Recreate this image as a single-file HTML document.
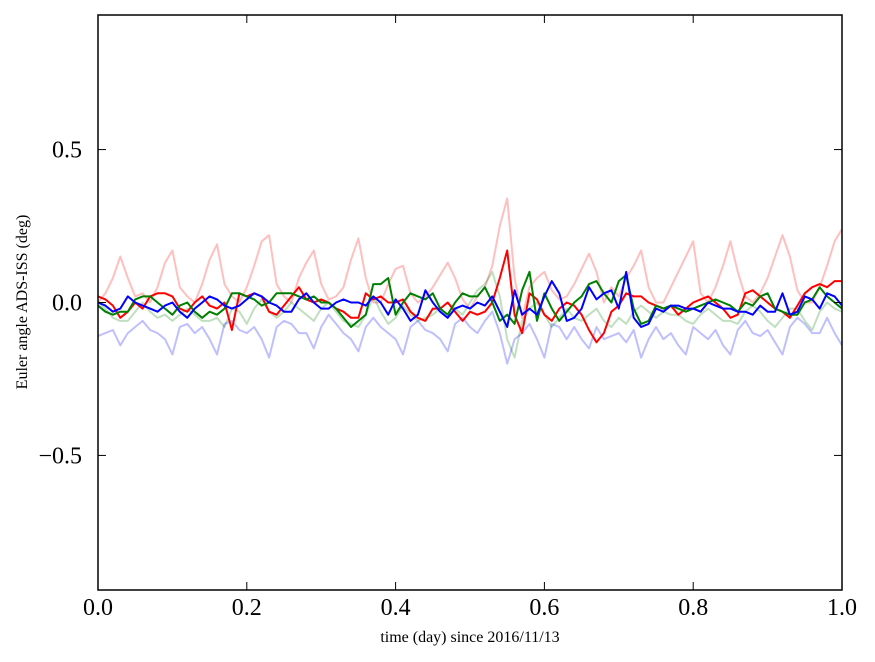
<!DOCTYPE html>
<html><head><meta charset="utf-8"><style>
body{margin:0;background:#fff;}
svg{display:block;font-family:"Liberation Serif",serif;}
</style></head><body>
<svg id="chart" width="875" height="662" viewBox="0 0 875 662">
<rect x="0" y="0" width="875" height="662" fill="#fff"/>
<g id="series"></g>
<rect x="98" y="15" width="744" height="575" fill="none" stroke="#000" stroke-width="1.5"/>
<g id="axes"></g>
<text x="470" y="642" font-size="16" text-anchor="middle">time (day) since 2016/11/13</text>
<text transform="translate(27,302) rotate(-90)" font-size="16" text-anchor="middle">Euler angle ADS-ISS (deg)</text>
</svg>
<script>
const xTicks=[0,0.2,0.4,0.6,0.8,1.0];
const xTickLabels=["0.0","0.2","0.4","0.6","0.8","1.0"];
const yTicks=[-0.5,0,0.5];
const yTickLabels=["\u22120.5","0.0","0.5"];
const lightRed=[0.0,0.03,0.08,0.15,0.08,0.02,0.03,0.0,0.05,0.13,0.17,0.05,0.02,0.0,0.06,0.14,0.19,0.06,0.02,0.0,0.05,0.12,0.2,0.22,0.06,0.02,0.0,0.08,0.13,0.17,0.06,0.01,0.02,0.05,0.14,0.21,0.08,0.0,0.0,0.06,0.11,0.12,0.03,0.0,0.02,0.05,0.09,0.13,0.08,0.01,-0.02,0.02,0.05,0.12,0.25,0.34,0.08,-0.05,0.05,0.08,0.1,0.04,0.01,0.02,0.06,0.11,0.16,0.1,0.0,0.05,0.02,0.08,0.12,0.17,0.05,0.0,0.0,0.05,0.1,0.15,0.2,0.03,0.0,0.05,0.12,0.2,0.1,0.02,0.0,0.03,0.08,0.15,0.22,0.15,0.04,0.0,0.0,0.05,0.12,0.2,0.24];
const lightGreen=[0.0,-0.02,-0.05,-0.06,-0.06,-0.03,0.0,-0.03,-0.05,-0.04,-0.06,-0.04,-0.02,-0.04,-0.06,-0.06,-0.05,-0.08,-0.02,-0.03,-0.07,-0.02,0.01,-0.03,-0.05,-0.03,0.0,-0.02,-0.04,-0.06,-0.02,0.0,-0.03,-0.06,-0.07,-0.08,-0.04,0.02,-0.03,-0.07,-0.05,-0.01,-0.04,-0.06,-0.05,-0.04,-0.02,0.0,-0.02,-0.04,0.0,0.04,0.06,0.1,0.02,-0.12,-0.18,-0.06,-0.02,0.0,-0.04,-0.08,-0.05,-0.02,-0.05,-0.06,-0.04,-0.02,-0.06,-0.08,-0.05,-0.07,-0.03,-0.01,-0.03,-0.05,-0.03,-0.04,-0.04,-0.06,-0.07,-0.04,-0.02,-0.04,-0.06,-0.06,-0.07,-0.03,-0.01,-0.03,-0.06,-0.08,-0.05,-0.02,-0.02,-0.06,-0.09,-0.03,0.0,-0.02,-0.03];
const lightBlue=[-0.11,-0.1,-0.09,-0.14,-0.1,-0.08,-0.06,-0.09,-0.1,-0.12,-0.17,-0.08,-0.07,-0.1,-0.08,-0.12,-0.17,-0.07,-0.06,-0.09,-0.1,-0.08,-0.12,-0.18,-0.08,-0.06,-0.07,-0.1,-0.1,-0.15,-0.08,-0.04,-0.07,-0.1,-0.12,-0.16,-0.08,-0.05,-0.08,-0.1,-0.12,-0.17,-0.08,-0.06,-0.09,-0.1,-0.12,-0.16,-0.07,-0.05,-0.08,-0.1,-0.06,-0.03,-0.1,-0.2,-0.12,-0.1,-0.07,-0.12,-0.18,-0.07,-0.08,-0.12,-0.08,-0.12,-0.15,-0.08,-0.12,-0.11,-0.1,-0.13,-0.09,-0.18,-0.12,-0.08,-0.12,-0.1,-0.14,-0.17,-0.08,-0.1,-0.12,-0.09,-0.14,-0.17,-0.09,-0.06,-0.1,-0.11,-0.09,-0.13,-0.17,-0.08,-0.05,-0.07,-0.1,-0.1,-0.05,-0.1,-0.14];
const red=[0.02,0.01,-0.01,-0.05,-0.03,0.0,-0.02,0.02,0.03,0.03,0.02,-0.02,-0.03,0.0,0.02,-0.01,-0.02,0.0,-0.09,0.03,0.02,0.03,0.02,-0.03,-0.04,-0.01,0.02,0.05,0.01,0.0,0.01,0.0,-0.02,-0.03,-0.05,-0.05,0.03,0.01,0.02,0.0,0.0,0.01,-0.03,-0.05,-0.06,-0.02,-0.02,0.0,-0.03,-0.06,-0.03,-0.04,-0.03,0.0,0.08,0.17,-0.04,-0.1,0.03,0.01,-0.04,-0.06,-0.02,0.0,-0.01,-0.04,-0.09,-0.13,-0.1,-0.03,-0.01,0.03,0.02,0.02,0.0,-0.01,-0.02,-0.01,-0.04,-0.02,0.0,0.01,0.02,0.0,-0.02,-0.05,-0.04,0.03,0.04,0.02,0.0,-0.02,-0.03,-0.05,-0.01,0.03,0.05,0.06,0.05,0.07,0.07];
const green=[-0.01,-0.03,-0.04,-0.03,-0.03,0.01,0.02,0.02,0.0,-0.02,-0.04,-0.01,0.0,-0.03,-0.05,-0.03,-0.04,-0.02,0.03,0.03,0.02,0.01,-0.01,0.0,0.03,0.03,0.03,0.02,0.01,0.02,0.0,0.0,-0.02,-0.05,-0.08,-0.06,-0.04,0.06,0.06,0.08,-0.04,0.0,0.03,0.02,0.01,0.03,-0.02,-0.04,0.0,0.03,0.02,0.02,0.05,0.0,-0.06,-0.04,-0.07,0.04,0.1,-0.06,0.03,-0.02,-0.06,-0.03,0.0,0.02,0.06,0.07,0.03,0.0,0.07,0.09,-0.02,-0.07,-0.06,-0.01,-0.02,-0.01,-0.02,-0.03,-0.02,-0.01,0.0,0.01,0.0,-0.01,-0.03,0.0,-0.01,0.02,0.03,-0.02,-0.03,-0.04,-0.04,0.0,0.01,0.05,0.02,0.0,-0.02];
const blue=[0.0,-0.01,-0.03,-0.02,0.02,0.0,-0.01,-0.02,-0.03,-0.01,0.0,-0.03,-0.05,-0.02,0.0,0.02,0.01,-0.01,-0.02,-0.01,0.01,0.03,0.02,0.0,-0.01,-0.03,-0.03,0.01,0.03,0.0,-0.02,-0.02,0.0,0.01,0.0,0.0,-0.01,0.02,0.0,-0.04,0.01,-0.02,-0.06,-0.04,0.04,0.0,-0.03,-0.05,-0.02,-0.01,-0.02,0.0,-0.01,0.02,-0.03,-0.08,0.04,-0.04,-0.02,-0.04,0.02,0.07,0.03,-0.06,-0.05,-0.02,0.05,0.01,0.03,0.04,-0.02,0.1,-0.05,-0.08,-0.07,-0.02,-0.03,-0.01,-0.01,-0.02,-0.02,-0.03,0.0,-0.01,-0.02,-0.02,-0.03,-0.03,-0.04,-0.01,-0.03,-0.03,0.03,-0.04,-0.03,0.02,0.01,-0.02,0.03,0.02,-0.01];

const L=98,R=842,T=15,B=590,YMIN=-0.94,YMAX=0.94;
function sx(v){return L+v*(R-L);}
function sy(v){return B-(v-YMIN)/(YMAX-YMIN)*(B-T);}
const NS="http://www.w3.org/2000/svg";
const sg=document.getElementById('series');
function draw(arr,color,op,name){
  let d='';
  arr.forEach((v,i)=>{const x=sx(i/(arr.length-1));d+=(i?'L':'M')+x.toFixed(1)+','+sy(v).toFixed(1);});
  const p=document.createElementNS(NS,'path');
  p.setAttribute('d',d);p.setAttribute('fill','none');p.setAttribute('stroke',color);
  p.setAttribute('stroke-width','2');p.setAttribute('stroke-opacity',op);p.setAttribute('stroke-linejoin','round');
  
  
  sg.appendChild(p);
}
draw(lightRed,'#ff0000',0.25,'light-red-line');
draw(lightGreen,'#008000',0.25,'light-green-line');
draw(lightBlue,'#0000ff',0.25,'light-blue-line');
draw(red,'#ff0000',1,'red-line');
draw(green,'#008000',1,'green-line');
draw(blue,'#0000ff',1,'blue-line');

const ax=document.getElementById('axes');
function ln(x1,y1,x2,y2){const l=document.createElementNS(NS,'line');l.setAttribute('x1',x1);l.setAttribute('y1',y1);l.setAttribute('x2',x2);l.setAttribute('y2',y2);l.setAttribute('stroke','#000');l.setAttribute('stroke-width','1');
  
  
  ax.appendChild(l);}
function tx(x,y,s,anchor,name){const t=document.createElementNS(NS,'text');t.setAttribute('x',x);t.setAttribute('y',y);t.setAttribute('font-size','24');t.setAttribute('text-anchor',anchor);t.textContent=s;
  
  
  ax.appendChild(t);}
xTicks.forEach((v,i)=>{const x=sx(v);ln(x,B,x,B-8);ln(x,T,x,T+8);tx(x,615,xTickLabels[i],'middle','x-tick-label');});
yTicks.forEach((v,i)=>{const y=sy(v);ln(L,y,L+8,y);ln(R,y,R-8,y);tx(82,y+8,yTickLabels[i],'end','y-tick-label');});
</script>
</body></html>
